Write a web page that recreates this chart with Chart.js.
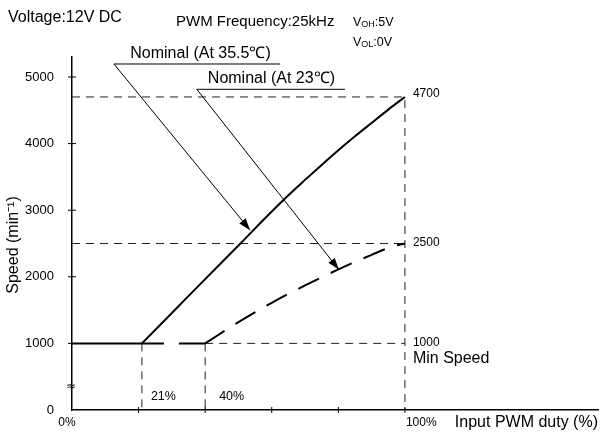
<!DOCTYPE html>
<html>
<head>
<meta charset="utf-8">
<script src="https://cdn.jsdelivr.net/npm/chart.js@4.4.0/dist/chart.umd.min.js"></script>
<style>
  html, body { margin: 0; padding: 0; background: #fff; }
  #chartContainer { width: 610px; height: 432px; }
</style>
</head>
<body>
<div id="chartContainer"><canvas id="myChart"></canvas></div>
<script>
// curve at 35.5 C (solid)
var dutyHot = [0, 21, 30, 40, 50, 60, 65, 70, 75, 80, 85, 90, 95, 100];
var speedHot = [1000, 1000, 1457, 1965, 2470, 2980, 3225, 3455, 3680, 3900, 4110, 4310, 4510, 4700];
// curve at 23 C (long dashes)
var dutyNom = [21, 40, 50, 60, 70, 80, 90, 96, 100];
var speedNom = [1000, 1000, 1320, 1610, 1870, 2110, 2330, 2450, 2500];

var yTicks = [0, 1000, 2000, 3000, 4000, 5000];
var xTicks = [0, 20, 40, 60, 80, 100];

var maxSpeed = 4700, nomSpeed = 2500, minSpeed = 1000;
var startHot = 21, startNom = 40, fullDuty = 100;

function pts(xs, ys, from, to) {
    return xs.slice(from, to).map(function (x, i) { return { x: x, y: ys[i + (from || 0)] }; });
}

var refStyle = { borderColor: '#222', borderWidth: 1, borderDash: [8, 6], pointRadius: 0, fill: false };

function refLine(data) {
    return Object.assign({ data: data }, refStyle);
}

// callout lines, in chart units: start of underline, arrow tip, underline end, text spot
var callouts = [
    { text: 'Nominal (At 35.5\u2103)', x0: 12.6, y0: 5195, x1: 53.5, y1: 2700, xEnd: 62.5, tx: 17.5, ty: 5350 },
    { text: 'Nominal (At 23\u2103)', x0: 37.5, y0: 4815, x1: 80.2, y1: 2105, xEnd: 82, tx: 40.8, ty: 4975 }
];

var FONT = '"Liberation Sans", Arial, sans-serif';

var annotations = {
    id: 'annotations',
    afterDraw: function (chart) {
        var c = chart.ctx, xs = chart.scales.x, ys = chart.scales.y;
        var px = function (v) { return xs.getPixelForValue(v); };
        var py = function (v) { return ys.getPixelForValue(v); };
        c.save();
        c.strokeStyle = '#000';
        c.fillStyle = '#000';
        c.lineWidth = 1;

        // tick marks crossing the axes
        xTicks.forEach(function (v) {
            if (v === 0) return;
            c.beginPath(); c.moveTo(px(v), py(0) - 3); c.lineTo(px(v), py(0) + 3); c.stroke();
        });
        yTicks.forEach(function (v) {
            if (v === 0) return;
            c.beginPath(); c.moveTo(px(0) - 4, py(v)); c.lineTo(px(0) + 4, py(v)); c.stroke();
        });

        // callouts
        callouts.forEach(function (o) {
            var x0 = px(o.x0), y0 = py(o.y0), x1 = px(o.x1), y1 = py(o.y1);
            c.beginPath(); c.moveTo(px(o.xEnd), y0); c.lineTo(x0, y0); c.lineTo(x1, y1); c.stroke();
            var a = Math.atan2(y1 - y0, x1 - x0), L = 12, W = 4;
            c.beginPath();
            c.moveTo(x1, y1);
            c.lineTo(x1 - L * Math.cos(a) + W * Math.sin(a), y1 - L * Math.sin(a) - W * Math.cos(a));
            c.lineTo(x1 - L * Math.cos(a) - W * Math.sin(a), y1 - L * Math.sin(a) + W * Math.cos(a));
            c.closePath(); c.fill();
            c.font = '16px ' + FONT;
            c.textAlign = 'left'; c.textBaseline = 'middle';
            c.fillText(o.text, px(o.tx), py(o.ty));
        });

        // header texts
        c.textBaseline = 'middle';
        c.textAlign = 'left';
        c.font = '16px ' + FONT;
        c.fillText('Voltage:12V DC', 8, 18);
        c.font = '15px ' + FONT;
        c.fillText('PWM Frequency:25kHz', 176, 22);

        function vLabel(sub, rest, x, y) {
            c.font = '12.5px ' + FONT;
            c.fillText('V', x, y);
            var w = c.measureText('V').width;
            c.font = '9px ' + FONT;
            c.fillText(sub, x + w, y + 2);
            var w2 = c.measureText(sub).width;
            c.font = '12.5px ' + FONT;
            c.fillText(rest, x + w + w2, y);
        }
        vLabel('OH', ':5V', 353, 23);
        vLabel('OL', ':0V', 353, 43);

        // values at the right
        c.font = '12px ' + FONT;
        c.fillText(String(maxSpeed), px(fullDuty) + 8, py(maxSpeed) - 3);
        c.fillText(String(nomSpeed), px(fullDuty) + 8, py(nomSpeed) - 1);
        c.fillText(String(minSpeed), px(fullDuty) + 8, py(minSpeed) - 1);
        c.font = '16px ' + FONT;
        c.fillText('Min Speed', px(fullDuty) + 8, py(minSpeed) + 15);

        c.font = '12.5px ' + FONT;
        c.fillText(startHot + '%', px(startHot) + 9, py(0) - 13);
        c.fillText(startNom + '%', px(startNom) + 14, py(0) - 13);

        c.font = '12px ' + FONT;
        c.textAlign = 'center';
        c.fillText('0%', px(0) - 5, py(0) + 13);
        c.textAlign = 'left';
        c.fillText(fullDuty + '%', px(fullDuty) + 1, py(0) + 13);
        c.font = '16px ' + FONT;
        c.textAlign = 'right';
        c.fillText('Input PWM duty (%)', chart.chartArea.right, py(0) + 13);

        // axis break mark
        c.textAlign = 'center';
        c.font = '12px "DejaVu Sans", sans-serif';
        c.fillText('\u2248', px(0) - 1, py(345));

        // y title
        c.translate(14, 245);
        c.rotate(-Math.PI / 2);
        c.textAlign = 'center';
        c.font = '16px ' + FONT;
        c.fillText('Speed (min\u207B\u00B9)', 0, 0);
        c.restore();
    }
};

const ctx = document.getElementById('myChart');

new Chart(ctx, {
    type: 'line',
    data: {
        datasets: [
            // flat part and rising part of the 35.5 C curve
            {
                data: pts(dutyHot, speedHot, 0, 2),
                borderColor: '#000',
                borderWidth: 2,
                pointRadius: 0
            },
            {
                data: pts(dutyHot, speedHot, 1),
                borderColor: '#000',
                borderWidth: 2,
                pointRadius: 0,
                cubicInterpolationMode: 'monotone'
            },
            // flat part and rising part of the 23 C curve
            {
                data: pts(dutyNom, speedNom, 0, 2),
                borderColor: '#000',
                borderWidth: 2,
                borderDash: [22, 15, 30, 20],
                pointRadius: 0
            },
            {
                data: pts(dutyNom, speedNom, 1),
                borderColor: '#000',
                borderWidth: 2,
                borderDash: [23, 13],
                pointRadius: 0,
                cubicInterpolationMode: 'monotone'
            },
            refLine([{ x: 0, y: maxSpeed }, { x: fullDuty, y: maxSpeed }, { x: fullDuty, y: 0 }]),
            refLine([{ x: 0, y: nomSpeed }, { x: fullDuty, y: nomSpeed }]),
            refLine([{ x: startNom, y: minSpeed }, { x: fullDuty, y: minSpeed }]),
            refLine([{ x: startHot, y: minSpeed }, { x: startHot, y: 0 }]),
            refLine([{ x: startNom, y: minSpeed }, { x: startNom, y: 0 }])
        ]
    },
    options: {
        animation: false,
        responsive: true,
        maintainAspectRatio: false,
        layout: {
            padding: { left: 0, top: 57, right: 12, bottom: 0 }
        },
        plugins: {
            legend: { display: false },
            tooltip: { enabled: false }
        },
        scales: {
            x: {
                type: 'linear',
                min: 0,
                max: 158,
                afterBuildTicks: function (s) { s.ticks = xTicks.map(function (v) { return { value: v }; }); },
                afterFit: function (s) { s.height = 22; },
                grid: { display: false },
                border: { display: true, color: '#000', width: 1.5 },
                ticks: { display: false }
            },
            y: {
                min: 0,
                max: 5300,
                afterBuildTicks: function (s) { s.ticks = yTicks.map(function (v) { return { value: v }; }); },
                afterFit: function (s) { s.width = 72; },
                grid: { display: false },
                border: { display: true, color: '#000', width: 1.5 },
                ticks: {
                    padding: 10,
                    color: '#000',
                    font: { size: 13, family: FONT },
                    callback: function (v) { return String(v); }
                }
            }
        }
    },
    plugins: [annotations]
});
</script>
</body>
</html>
